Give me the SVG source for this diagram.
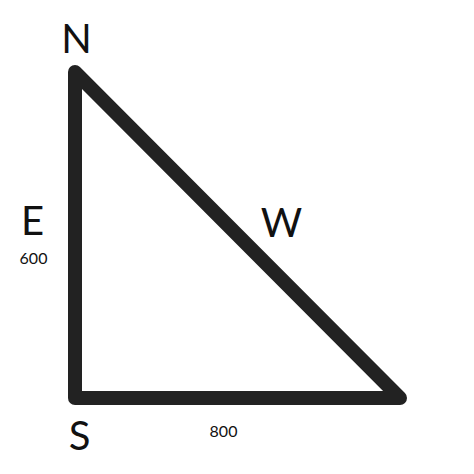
<svg xmlns="http://www.w3.org/2000/svg" width="474" height="474" viewBox="0 0 474 474">
<style>
.lbl{font-family:Lato,"Liberation Sans",sans-serif;font-size:40px;fill:#111;text-anchor:middle}
.num{font-family:Lato,"Liberation Sans",sans-serif;font-size:16px;fill:#111;text-anchor:middle}
</style>
<rect width="474" height="474" fill="#fff"/>
<g id="connectors">
<path d="M75,72 L75,398 L400,398 Z" fill="none" stroke="#222" stroke-width="14" stroke-linejoin="round" stroke-linecap="round"/>
</g>
<g id="N"><text class="lbl" x="76.5" y="53">N</text></g>
<g id="E"><text class="lbl" x="32.5" y="235">E</text><text class="num" x="33.5" y="264">600</text></g>
<g id="W"><text class="lbl" x="281.5" y="237">W</text></g>
<g id="S"><text class="lbl" x="79.5" y="450">S</text><text class="num" x="223.5" y="437">800</text></g>
</svg>
